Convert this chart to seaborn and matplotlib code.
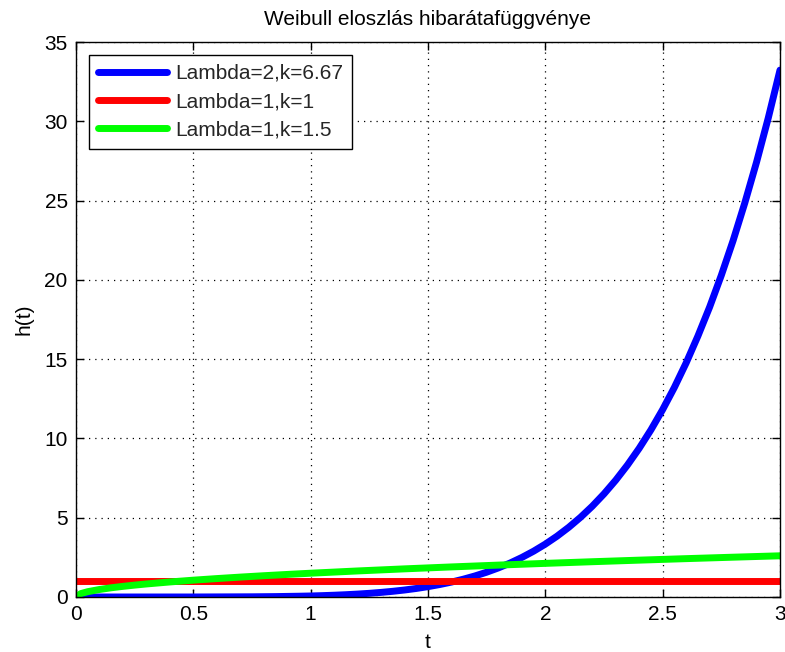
import numpy as np
import pandas as pd
import matplotlib
matplotlib.use("Agg")
import matplotlib.pyplot as plt
import seaborn as sns

t_blue = [0.0, 0.5, 0.75, 0.85, 0.95, 1.0, 1.05, 1.1, 1.15, 1.2, 1.25, 1.3, 1.35, 1.4, 1.45,
          1.5, 1.55, 1.6, 1.65, 1.7, 1.75, 1.8, 1.85, 1.9, 1.95, 2.0,
          2.05, 2.1, 2.15, 2.2, 2.25, 2.3, 2.35, 2.4, 2.45, 2.5,
          2.55, 2.6, 2.65, 2.7, 2.75, 2.8, 2.85, 2.9, 2.95, 3.0]
h_blue = [0.0, 0.001, 0.013, 0.026, 0.049, 0.065, 0.086, 0.112, 0.145, 0.184, 0.232, 0.290, 0.359, 0.441, 0.538,
          0.653, 0.786, 0.941, 1.121, 1.327, 1.564, 1.835, 2.143, 2.494, 2.889, 3.335,
          3.836, 4.398, 5.026, 5.725, 6.503, 7.366, 8.322, 9.377, 10.54, 11.82,
          13.22, 14.76, 16.45, 18.28, 20.29, 22.47, 24.85, 27.42, 30.21, 33.23]
t_red = [0.0, 3.0]
h_red = [1.0, 1.0]
t_green = [0.0, 0.02, 0.05, 0.1, 0.15, 0.2, 0.25, 0.3, 0.4, 0.5, 0.6, 0.7, 0.8, 0.9, 1.0,
           1.2, 1.4, 1.6, 1.8, 2.0, 2.2, 2.4, 2.6, 2.8, 3.0]
h_green = [0.0, 0.212, 0.335, 0.474, 0.581, 0.671, 0.750, 0.822, 0.949, 1.061, 1.162, 1.255, 1.342, 1.423, 1.5,
           1.643, 1.775, 1.897, 2.012, 2.121, 2.225, 2.324, 2.419, 2.510, 2.598]
labels = ["Lambda=2,k=6.67", "Lambda=1,k=1", "Lambda=1,k=1.5"]
colors = ["#0000ff", "#ff0000", "#00ff00"]
title = "Weibull eloszlás hibarátafüggvénye"

df = pd.concat([
    pd.DataFrame({"t": t_blue, "h": h_blue, "series": labels[0]}),
    pd.DataFrame({"t": t_red, "h": h_red, "series": labels[1]}),
    pd.DataFrame({"t": t_green, "h": h_green, "series": labels[2]}),
])

sns.set_theme(style="white")
plt.rcParams["font.family"] = ["Liberation Sans", "DejaVu Sans"]

fig = plt.figure(figsize=(7.85, 6.52), dpi=100)
ax = fig.add_axes([76/785, 1 - 597/652, (780-76)/785, (597-42)/652])

sns.lineplot(data=df, x="t", y="h", hue="series", palette=colors,
             hue_order=labels, linewidth=5, ax=ax, legend=True)

ax.set_xlim(0, 3)
ax.set_ylim(0, 35)
ax.set_xticks([0, 0.5, 1, 1.5, 2, 2.5, 3])
ax.set_xticklabels(["0", "0.5", "1", "1.5", "2", "2.5", "3"])
ax.set_yticks([0, 5, 10, 15, 20, 25, 30, 35])
ax.grid(True, color="black", linestyle=(0, (1, 4)), linewidth=0.9)
ax.tick_params(direction="in", length=6, width=1, colors="black",
               labelsize=15, top=True, right=True, bottom=True, left=True, pad=6)
for s in ax.spines.values():
    s.set_color("black")
    s.set_linewidth(1)
ax.set_xlabel("t", fontsize=15, color="black", labelpad=6)
ax.set_ylabel("h(t)", fontsize=15, color="black", labelpad=8)
ax.set_title(title, fontsize=15, color="black", pad=12)

leg = ax.legend(loc="upper left", fontsize=15, frameon=True, fancybox=False,
                framealpha=1, edgecolor="black", handlelength=3.3,
                borderaxespad=0.6, labelspacing=0.45, handletextpad=0.4,
                borderpad=0.45)
leg.get_frame().set_linewidth(1)
for line in leg.get_lines():
    line.set_linewidth(5)

fig.savefig("out.png", dpi=100, facecolor="white")
